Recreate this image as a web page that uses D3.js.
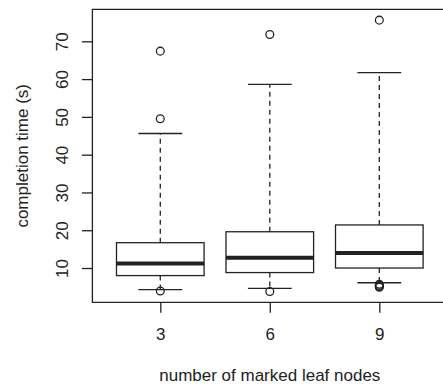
<!DOCTYPE html>
<html>
<head>
<meta charset="utf-8">
<script src="https://cdn.jsdelivr.net/npm/d3@7"></script>
<style>
  html, body { margin: 0; padding: 0; background: #fff; }
  svg { display: block; }
  text { font-family: "Liberation Sans", Arial, Helvetica, sans-serif; fill: #222; }
</style>
</head>
<body>
<svg id="chart" width="443" height="384"></svg>
<script>
// ---- data ----
const categories = ["3", "6", "9"];
const q1 = [8.0, 8.8, 10.0];
const median = [11.2, 12.7, 14.0];
const q3 = [16.7, 19.6, 21.4];
const whiskerLow = [4.3, 4.6, 6.1];
const whiskerHigh = [45.6, 58.6, 61.7];
const outliers = [
  [3.9, 49.5, 67.4],
  [3.8, 71.8],
  [4.9, 5.1, 5.4, 5.7, 75.6]
];
const yTicks = [10, 20, 30, 40, 50, 60, 70];
const xTitle = "number of marked leaf nodes";
const yTitle = "completion time (s)";

// ---- layout ----
const plot = { left: 92.4, right: 447.2, top: 9.3, bottom: 302.3 };
const ink = "#222";

const svg = d3.select("#chart");

const allVals = outliers.flat().concat(whiskerLow, whiskerHigh);
const yMin = d3.min(allVals), yMax = d3.max(allVals);
const pad = (yMax - yMin) * 0.04;
const y = d3.scaleLinear().domain([yMin - pad, yMax + pad]).range([plot.bottom, plot.top]);

const n = categories.length;
const xpad = n * 0.04;
const x = d3.scaleLinear().domain([0.5 - xpad, n + 0.5 + xpad]).range([plot.left, plot.right]);

const data = categories.map((c, i) => ({
  c, pos: i + 1, q1: q1[i], med: median[i], q3: q3[i],
  lo: whiskerLow[i], hi: whiskerHigh[i], out: outliers[i]
}));

const g = svg.append("g");
const boxHalf = 0.4, capHalf = 0.2;

data.forEach(d => {
  const cx = x(d.pos);
  // whiskers (dashed)
  g.append("line").attr("x1", cx).attr("x2", cx).attr("y1", y(d.q3)).attr("y2", y(d.hi))
    .attr("stroke", ink).attr("stroke-width", 1.3).attr("stroke-dasharray", "5,4");
  g.append("line").attr("x1", cx).attr("x2", cx).attr("y1", y(d.q1)).attr("y2", y(d.lo))
    .attr("stroke", ink).attr("stroke-width", 1.3).attr("stroke-dasharray", "5,4");
  // caps
  [d.hi, d.lo].forEach(v => {
    g.append("line").attr("x1", x(d.pos - capHalf)).attr("x2", x(d.pos + capHalf))
      .attr("y1", y(v)).attr("y2", y(v)).attr("stroke", ink).attr("stroke-width", 1.3);
  });
  // box
  g.append("rect").attr("x", x(d.pos - boxHalf)).attr("y", y(d.q3))
    .attr("width", x(d.pos + boxHalf) - x(d.pos - boxHalf)).attr("height", y(d.q1) - y(d.q3))
    .attr("fill", "#fff").attr("stroke", ink).attr("stroke-width", 1.3);
  // median
  g.append("line").attr("x1", x(d.pos - boxHalf)).attr("x2", x(d.pos + boxHalf))
    .attr("y1", y(d.med)).attr("y2", y(d.med)).attr("stroke", ink).attr("stroke-width", 4);
  // outliers
  d.out.forEach(v => {
    g.append("circle").attr("cx", cx).attr("cy", y(v)).attr("r", 3.9)
      .attr("fill", "none").attr("stroke", ink).attr("stroke-width", 1.3);
  });
});

// frame
svg.append("path")
  .attr("d", `M${plot.right},${plot.top}H${plot.left}V${plot.bottom}H${plot.right}`)
  .attr("fill", "none").attr("stroke", ink).attr("stroke-width", 1.3);

// y axis
const yAxis = svg.append("g").attr("transform", `translate(${plot.left},0)`)
  .call(d3.axisLeft(y).tickValues(yTicks).tickSize(10.5).tickSizeOuter(0).tickFormat(d3.format("d")));
yAxis.select(".domain").remove();
yAxis.selectAll(".tick line").attr("stroke", ink).attr("stroke-width", 1.3);
yAxis.selectAll(".tick text")
  .attr("transform", "rotate(-90)").attr("x", 0).attr("y", -24).attr("dy", 0)
  .attr("text-anchor", "middle").attr("font-size", 17)
  .style("font-family", '"Liberation Sans", Arial, sans-serif').attr("fill", ink);

// x axis
const xAxis = svg.append("g").attr("transform", `translate(0,${plot.bottom})`)
  .call(d3.axisBottom(x).tickValues(data.map(d => d.pos)).tickSize(10.5).tickSizeOuter(0)
    .tickFormat((v, i) => categories[i]));
xAxis.select(".domain").remove();
xAxis.selectAll(".tick line").attr("stroke", ink).attr("stroke-width", 1.3);
xAxis.selectAll(".tick text").attr("y", 38).attr("dy", 0).attr("font-size", 17)
  .style("font-family", '"Liberation Sans", Arial, sans-serif').attr("fill", ink);

// titles
svg.append("text").attr("x", x(2)).attr("y", 381).attr("text-anchor", "middle")
  .attr("font-size", 17).text(xTitle);
svg.append("text").attr("transform", `translate(28,${(plot.top + plot.bottom) / 2}) rotate(-90)`)
  .attr("text-anchor", "middle").attr("font-size", 17).text(yTitle);
</script>
</body>
</html>
